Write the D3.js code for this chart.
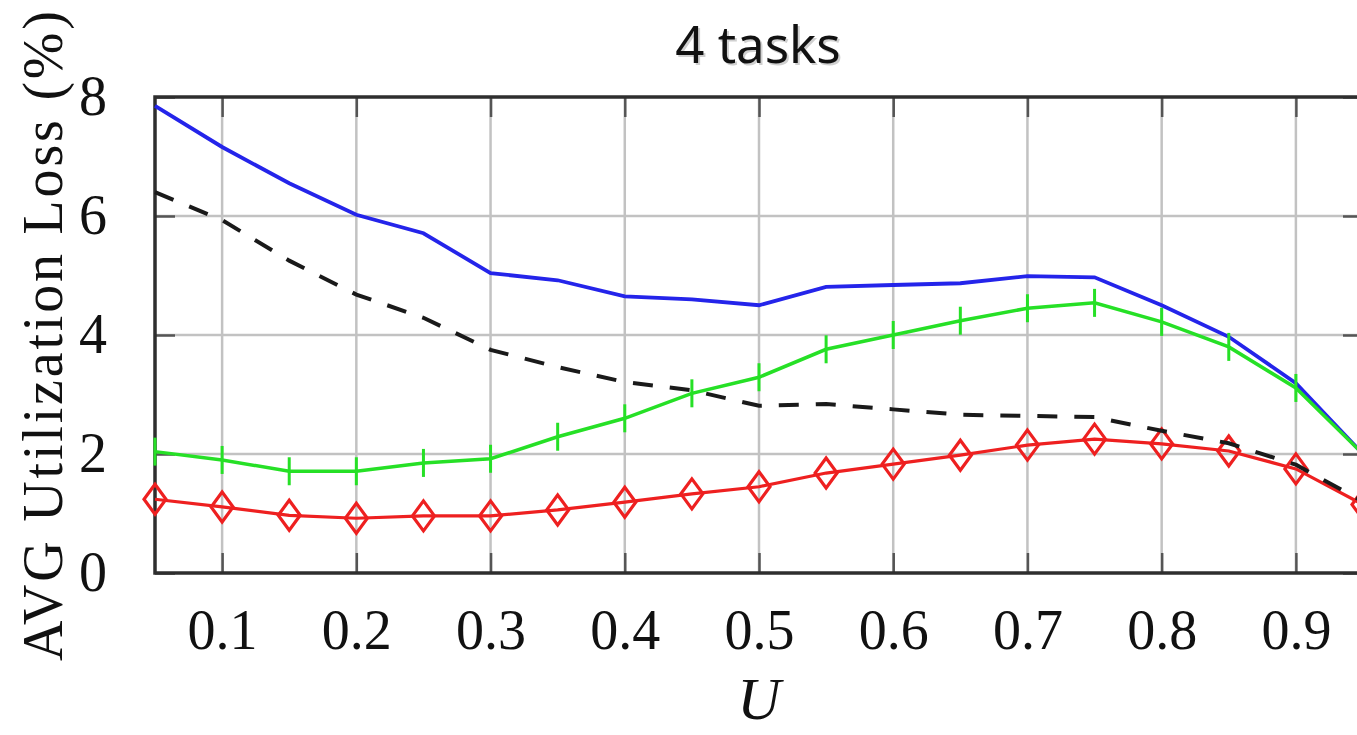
<!DOCTYPE html>
<html>
<head>
<meta charset="utf-8">
<script src="https://cdn.jsdelivr.net/npm/d3@7"></script>
<style>
  body { margin: 0; background: #fff; }
  svg { display: block; }
</style>
</head>
<body>
<div id="chart"></div>
<script>
// values (U on x, % loss on y)
const uValues   = [0.05, 0.10, 0.15, 0.20, 0.25, 0.30, 0.35, 0.40, 0.45, 0.50,
                   0.55, 0.60, 0.65, 0.70, 0.75, 0.80, 0.85, 0.90, 0.95];
const blueLoss  = [7.85, 7.16, 6.55, 6.02, 5.71, 5.04, 4.92, 4.65, 4.60, 4.50,
                   4.81, 4.84, 4.87, 4.99, 4.97, 4.50, 3.97, 3.19, 2.00];
const greenLoss = [2.04, 1.90, 1.71, 1.71, 1.85, 1.92, 2.29, 2.60, 3.02, 3.29,
                   3.76, 4.00, 4.24, 4.45, 4.54, 4.22, 3.80, 3.11, 2.00];
const redLoss   = [1.24, 1.11, 0.97, 0.92, 0.96, 0.96, 1.06, 1.19, 1.33, 1.45,
                   1.68, 1.83, 1.98, 2.15, 2.25, 2.17, 2.05, 1.75, 1.15];
const dashLoss  = [6.40, 5.93, 5.25, 4.68, 4.29, 3.75, 3.46, 3.21, 3.07, 2.81,
                   2.84, 2.75, 2.66, 2.64, 2.62, 2.39, 2.18, 1.82, 1.20];

const xTicks = [0.1, 0.2, 0.3, 0.4, 0.5, 0.6, 0.7, 0.8, 0.9];
const yTicks = [0, 2, 4, 6, 8];

const titleText = "4 tasks",
      xLabel = "U",
      yLabel = "AVG Utilization Loss (%)";

// page + plot box (right edge of the frame falls just outside the picture)
const W = 1357, H = 735;
const plot = { left: 155, right: 1363, top: 97, bottom: 573 };
const tickLen = 20;
const serif = "'Liberation Serif', 'DejaVu Serif', serif";

const svg = d3.select("#chart").append("svg")
    .attr("width", W)
    .attr("height", H);

svg.append("rect").attr("width", W).attr("height", H).attr("fill", "#fff");

const x = d3.scaleLinear().domain([0.05, 0.95]).range([plot.left, plot.right]);
const y = d3.scaleLinear().domain([0, 8]).range([plot.bottom, plot.top]);

// grid
const grid = svg.append("g").attr("stroke", "#c2c2c2").attr("stroke-width", 2.5);
grid.selectAll("line.gx").data(xTicks).join("line")
    .attr("class", "gx")
    .attr("x1", d => x(d)).attr("x2", d => x(d))
    .attr("y1", plot.top).attr("y2", plot.bottom);
grid.selectAll("line.gy").data(yTicks.slice(1, -1)).join("line")
    .attr("class", "gy")
    .attr("x1", plot.left).attr("x2", plot.right)
    .attr("y1", d => y(d)).attr("y2", d => y(d));

// axes: d3 axes with inward ticks on all four sides
const axStyle = g => {
  g.select(".domain").remove();
  g.selectAll(".tick line").attr("stroke", "#555").attr("stroke-width", 2.5);
};

svg.append("g")
    .attr("transform", `translate(0,${plot.bottom})`)
    .call(d3.axisBottom(x).tickValues(xTicks).tickSizeInner(-tickLen).tickSizeOuter(0)
          .tickPadding(36).tickFormat(d3.format(".1f")))
    .call(axStyle)
    .call(g => g.selectAll(".tick text")
        .attr("font-family", serif).attr("font-size", 56).attr("fill", "#111"));

svg.append("g")
    .attr("transform", `translate(0,${plot.top})`)
    .call(d3.axisTop(x).tickValues(xTicks).tickSizeInner(-tickLen).tickSizeOuter(0).tickFormat(""))
    .call(axStyle);

svg.append("g")
    .attr("transform", `translate(${plot.left},0)`)
    .call(d3.axisLeft(y).tickValues(yTicks).tickSizeInner(-tickLen).tickSizeOuter(0)
          .tickPadding(48).tickFormat(d3.format("d")))
    .call(axStyle)
    .call(g => g.selectAll(".tick text")
        .attr("font-family", serif).attr("font-size", 56).attr("fill", "#111"));

svg.append("g")
    .attr("transform", `translate(${plot.right},0)`)
    .call(d3.axisRight(y).tickValues(yTicks).tickSizeInner(-tickLen).tickSizeOuter(0).tickFormat(""))
    .call(axStyle);

// frame
svg.append("rect")
    .attr("x", plot.left).attr("y", plot.top)
    .attr("width", plot.right - plot.left).attr("height", plot.bottom - plot.top)
    .attr("fill", "none").attr("stroke", "#2e2e2e").attr("stroke-width", 3.5);

// series
const line = d3.line().x(d => x(d[0])).y(d => y(d[1]));
const pairs = vals => uValues.map((u, i) => [u, vals[i]]);

svg.append("path").datum(pairs(blueLoss))
    .attr("d", line).attr("fill", "none")
    .attr("stroke", "#2424ea").attr("stroke-width", 3.8);

svg.append("path").datum(pairs(greenLoss))
    .attr("d", line).attr("fill", "none")
    .attr("stroke", "#26e026").attr("stroke-width", 3.5);

svg.append("g").selectAll("line").data(pairs(greenLoss)).join("line")
    .attr("x1", d => x(d[0])).attr("x2", d => x(d[0]))
    .attr("y1", d => y(d[1]) - 14).attr("y2", d => y(d[1]) + 14)
    .attr("stroke", "#26e026").attr("stroke-width", 3);

svg.append("path").datum(pairs(redLoss))
    .attr("d", line).attr("fill", "none")
    .attr("stroke", "#ee2020").attr("stroke-width", 3.2);

svg.append("g").selectAll("path").data(pairs(redLoss)).join("path")
    .attr("d", d => {
      const cx = x(d[0]), cy = y(d[1]);
      return `M${cx},${cy - 15}L${cx + 11},${cy}L${cx},${cy + 15}L${cx - 11},${cy}Z`;
    })
    .attr("fill", "none").attr("stroke", "#ee2020").attr("stroke-width", 3.2);

svg.append("path").datum(pairs(dashLoss))
    .attr("d", line).attr("fill", "none")
    .attr("stroke", "#1a1a1a").attr("stroke-width", 4)
    .attr("stroke-dasharray", "20,17");

// title, with the faint drop shadow of the original
svg.append("text")
    .attr("x", 760).attr("y", 65).attr("text-anchor", "middle")
    .attr("font-family", "'Noto Sans', sans-serif").attr("font-size", 51)
    .attr("fill", "#999").attr("opacity", 0.45)
    .text(titleText);
svg.append("text")
    .attr("x", 758).attr("y", 63).attr("text-anchor", "middle")
    .attr("font-family", "'Noto Sans', sans-serif").attr("font-size", 51)
    .attr("fill", "#111")
    .text(titleText);

// axis labels
svg.append("text")
    .attr("x", (plot.left + plot.right) / 2).attr("y", 719)
    .attr("text-anchor", "middle")
    .attr("font-family", serif).attr("font-style", "italic").attr("font-size", 60)
    .attr("fill", "#111")
    .text(xLabel);

svg.append("text")
    .attr("transform", "translate(62,336) rotate(-90)")
    .attr("text-anchor", "middle")
    .attr("font-family", serif).attr("font-size", 56)
    .attr("textLength", 650).attr("lengthAdjust", "spacing")
    .attr("fill", "#111")
    .text(yLabel);
</script>
</body>
</html>
